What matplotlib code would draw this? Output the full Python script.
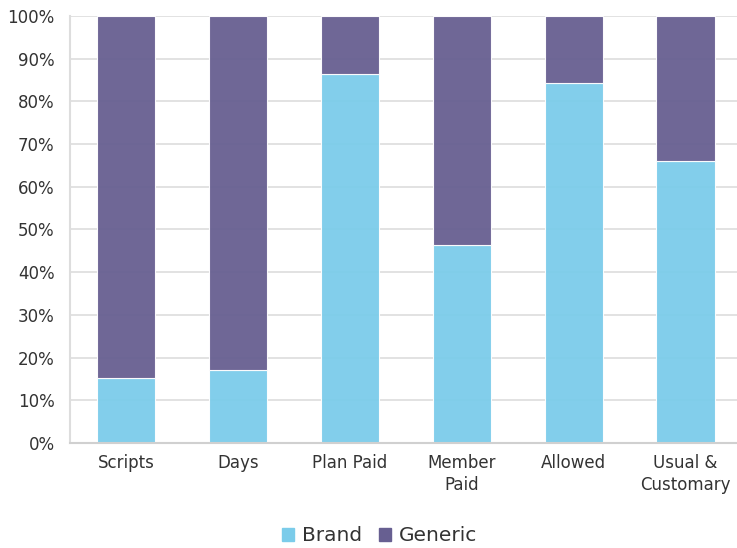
import matplotlib.pyplot as plt
import numpy as np
from matplotlib.ticker import PercentFormatter
from matplotlib.patches import Patch

categories = ["Scripts", "Days", "Plan Paid", "Member\nPaid", "Allowed", "Usual &\nCustomary"]
brand = [15.2, 17.1, 86.5, 46.3, 84.2, 66.1]
generic = [100 - b for b in brand]

brand_color = "#7bccea"
generic_color = "#675f91"

fig = plt.figure(figsize=(7.37, 5.48), dpi=100)
ax = fig.add_axes([70 / 737, 105 / 548, 667 / 737, 427 / 548])

x = np.arange(len(categories))
ax.bar(x, brand, width=0.52, color=brand_color, alpha=0.95, edgecolor="white", linewidth=0.8, zorder=2)
ax.bar(x, generic, bottom=brand, width=0.52, color=generic_color, alpha=0.95, edgecolor="white", linewidth=0.8, zorder=2)

ax.set_xlim(-0.5, 5.46)
ax.set_ylim(0, 100)
ax.set_yticks(np.arange(0, 101, 10))
ax.yaxis.set_major_formatter(PercentFormatter(decimals=0))
ax.set_xticks(x)
ax.set_xticklabels(categories, linespacing=1.25)

ax.grid(axis="y", color="#dddddd", linewidth=1.2, zorder=1)
ax.set_axisbelow(True)
for s in ["top", "right"]:
    ax.spines[s].set_visible(False)
ax.spines["left"].set_color("#dddddd")
ax.spines["bottom"].set_color("#d0d0d0")
ax.spines["left"].set_linewidth(1.5)
ax.spines["bottom"].set_linewidth(1.5)
ax.tick_params(length=0, labelsize=12, colors="#333333", pad=8)
ax.tick_params(axis="y", pad=11)

handles = [Patch(color=brand_color, label="Brand"), Patch(color=generic_color, label="Generic")]
fig.legend(handles=handles, loc="center", bbox_to_anchor=(0.515, 0.022), ncol=2, frameon=False,
           fontsize=14.5, handlelength=0.6, handleheight=0.6, handletextpad=0.4, columnspacing=0.8,
           labelcolor="#333333")

fig.savefig("out.png", dpi=100)
